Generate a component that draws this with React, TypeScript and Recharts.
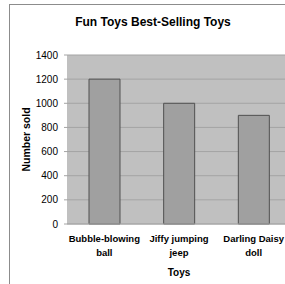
import { BarChart, Bar, XAxis, YAxis, CartesianGrid, Label } from 'recharts'

const toys = ['Bubble-blowing ball', 'Jiffy jumping jeep', 'Darling Daisy doll']
const sold = [1200, 1000, 900]
const yTicks = [0, 200, 400, 600, 800, 1000, 1200, 1400]

const data = toys.map((toy, i) => ({ toy, sold: sold[i] }))

const font = "'Liberation Sans', Arial, sans-serif"

const ToyTick = ({ x, y, payload }: any) => {
	const words = String(payload.value).split(' ')
	const last = words.pop()
	return (
		<text
			x={x}
			y={y}
			textAnchor='middle'
			fontFamily={font}
			fontSize={9.5}
			fontWeight='bold'
			fill='#000'
		>
			<tspan x={x} dy={18}>
				{words.join(' ')}
			</tspan>
			<tspan x={x} dy={13.5}>
				{last}
			</tspan>
		</text>
	)
}

const YTitle = ({ viewBox }: any) => {
	const cy = viewBox.y + viewBox.height / 2
	return (
		<text
			x={30}
			y={cy}
			transform={`rotate(-90 30 ${cy})`}
			textAnchor='middle'
			fontFamily={font}
			fontSize={10.5}
			fontWeight='bold'
			fill='#000'
		>
			Number sold
		</text>
	)
}

const App = () => {
	return (
		<div
			style={{
				position: 'absolute',
				left: 0,
				top: 0,
				width: 285,
				height: 284,
				overflow: 'hidden',
				background: '#fff',
				fontFamily: font,
			}}
		>
			<div
				style={{
					position: 'absolute',
					left: 9,
					top: 4,
					width: 320,
					height: 320,
					border: '1px solid #8c8c8c',
				}}
			/>
			<div
				style={{
					position: 'absolute',
					left: 0,
					top: 15,
					width: 306,
					textAlign: 'center',
					fontSize: 12,
					fontWeight: 'bold',
					lineHeight: '14px',
				}}
			>
				Fun Toys Best-Selling Toys
			</div>
			<div style={{ position: 'absolute', left: 0, top: 0 }}>
				<BarChart
					width={300}
					height={284}
					data={data}
					margin={{ top: 55, right: 9, bottom: 0, left: 0 }}
					barSize={31}
				>
					<CartesianGrid
						vertical={false}
						fill='#c0c0c0'
						stroke='#a4a4a4'
						strokeWidth={1}
					/>
					<XAxis
						dataKey='toy'
						height={60}
						tickLine={false}
						tickSize={0}
						tickMargin={0}
						axisLine={{ stroke: '#a8a8a8' }}
						tick={<ToyTick />}
						interval={0}
					>
						<Label
							value='Toys'
							position='insideBottom'
							offset={8}
							fontFamily={font}
							fontSize={10}
							fontWeight='bold'
							fill='#000'
						/>
					</XAxis>
					<YAxis
						width={67}
						domain={[0, 1400]}
						ticks={yTicks}
						interval={0}
						axisLine={false}
						tickLine={{ stroke: '#a4a4a4' }}
						tickSize={3}
						tickMargin={6}
						tick={{ fontFamily: font, fontSize: 10, fill: '#000' }}
					>
						<Label content={<YTitle />} />
					</YAxis>
					<Bar
						dataKey='sold'
						fill='#a0a0a0'
						stroke='#505050'
						strokeWidth={1}
						isAnimationActive={false}
					/>
				</BarChart>
			</div>
		</div>
	)
}

export default App
